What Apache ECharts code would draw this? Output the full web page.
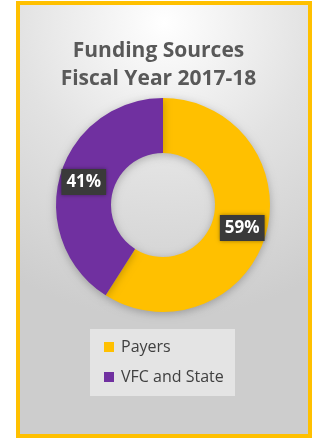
<!DOCTYPE html>
<html><head><meta charset="utf-8">
<script src="https://cdn.jsdelivr.net/npm/echarts@6/dist/echarts.min.js"></script>
<style>html,body{margin:0;padding:0;background:#fff;}#c{width:317px;height:438px;}</style>
</head><body><div id="c"></div>
<script>
const categories = ['Payers', 'VFC and State'];
const values = [59, 41];
const colors = ['#FFC000', '#7030A0'];
const titleLines = ['Funding Sources', 'Fiscal Year 2017-18'];

const chart = echarts.init(document.getElementById('c'), null, {renderer: 'canvas'});
chart.setOption({
  animation: false,
  graphic: [
    {type: 'rect', z: -10, shape: {x: 18, y: 3, width: 292, height: 433},
     style: {fill: new echarts.graphic.RadialGradient(0.5, 0.05, 1.0, [
       {offset: 0, color: '#ffffff'}, {offset: 0.5, color: '#e2e2e2'}, {offset: 1, color: '#cdcdcd'}]),
       stroke: '#FFC000', lineWidth: 4}},
    {type: 'rect', z: -5, shape: {x: 90, y: 329, width: 145, height: 67},
     style: {fill: 'rgba(235,235,235,0.75)'}}
  ],
  title: {
    text: titleLines.join('\n'), left: 'center', top: 32,
    textStyle: {fontFamily: 'Open Sans', fontWeight: 'bold', fontSize: 21, color: '#595959', lineHeight: 28}
  },
  legend: {
    orient: 'vertical', left: 99, top: 334, itemWidth: 10, itemHeight: 10, itemGap: 14,
    icon: 'rect',
    textStyle: {fontFamily: 'Open Sans', fontSize: 16, color: '#404040', padding: [0, 0, 0, 2]},
    data: categories
  },
  series: [{
    type: 'pie', center: [163, 205], radius: [52, 107], startAngle: 90, clockwise: true,
    color: colors,
    itemStyle: {shadowBlur: 8, shadowColor: 'rgba(0,0,0,0.25)', shadowOffsetY: 2},
    label: {
      position: 'inside', formatter: '{c}%',
      fontFamily: 'Open Sans', fontWeight: 'bold', fontSize: 17, color: '#ffffff',
      backgroundColor: '#3a3a3a', padding: [5, 5, 4, 5],
      shadowBlur: 4, shadowColor: 'rgba(0,0,0,0.4)'
    },
    labelLine: {show: false},
    emphasis: {disabled: true},
    data: categories.map((n, i) => ({name: n, value: values[i]}))
  }]
});
</script></body></html>
